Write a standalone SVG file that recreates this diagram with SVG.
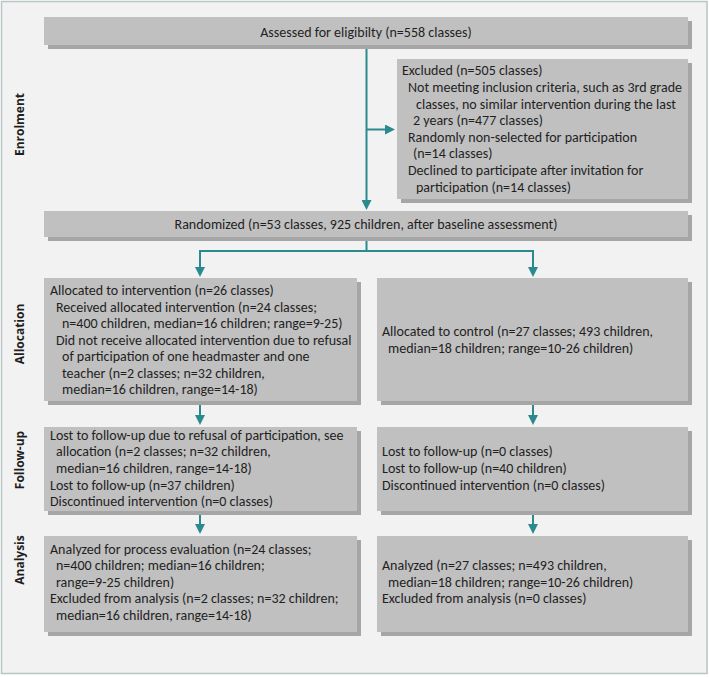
<svg xmlns="http://www.w3.org/2000/svg" width="709" height="677" viewBox="0 0 709 677">
<style>
.sh{fill:#a6a6a6}
.bx{fill:#c0c0c0}
.t{font-family:Carlito,Lato,"Liberation Sans",sans-serif;font-size:14px;fill:#1f1f1f}
.m{text-anchor:middle}
.side{font-family:"Open Sans","DejaVu Sans",sans-serif;font-size:12px;font-weight:bold;fill:#1f1f1f;text-anchor:middle}
.c{fill:none;stroke:#2a8a8e;stroke-width:2}
</style>
<defs>
<marker id="ah" viewBox="0 0 10 10" refX="1" refY="5" markerWidth="10" markerHeight="10" markerUnits="userSpaceOnUse" orient="auto">
<path d="M0,0 L10,5 L0,10 z" fill="#2a8a8e"/>
</marker>
</defs>
<rect x="1.5" y="1.5" width="705.5" height="672" fill="#f2f2f2" stroke="#b9c5c5" stroke-width="1.5"/>
<g id="labels">
<text class="side" transform="translate(24,124.5) rotate(-90)">Enrolment</text>
<text class="side" transform="translate(24,334) rotate(-90)">Allocation</text>
<text class="side" transform="translate(24,460) rotate(-90)">Follow-up</text>
<text class="side" transform="translate(24,560) rotate(-90)">Analysis</text>
</g>
<g id="connectors">
<path class="c" d="M366.5,45 V201" marker-end="url(#ah)"/>
<path class="c" d="M366.5,129.5 H386" marker-end="url(#ah)"/>
<path class="c" d="M366.5,237 V251 M200,251 H533"/>
<path class="c" d="M200,250 V268" marker-end="url(#ah)"/>
<path class="c" d="M533,250 V268" marker-end="url(#ah)"/>
<path class="c" d="M200,401 V416" marker-end="url(#ah)"/>
<path class="c" d="M533,401 V416" marker-end="url(#ah)"/>
<path class="c" d="M200,511 V525" marker-end="url(#ah)"/>
<path class="c" d="M533,511 V525" marker-end="url(#ah)"/>
</g>
<g id="assessed">
<rect class="sh" x="48" y="21" width="644" height="28"/>
<rect class="bx" x="44" y="17" width="644" height="28"/>
<text class="t m" x="366" y="36.5">Assessed for eligibilty (n=558 classes)</text>
</g>
<g id="excluded">
<rect class="sh" x="401" y="63" width="291" height="140"/>
<rect class="bx" x="397" y="59" width="291" height="140"/>
<text class="t" x="402" y="75">Excluded (n=505 classes)</text>
<text class="t" x="408" y="92">Not meeting inclusion criteria, such as 3rd grade</text>
<text class="t" x="416" y="108.5">classes, no similar intervention during the last</text>
<text class="t" x="413" y="125">2 years (n=477 classes)</text>
<text class="t" x="408" y="141.5">Randomly non-selected for participation</text>
<text class="t" x="413" y="158">(n=14 classes)</text>
<text class="t" x="408" y="175">Declined to participate after invitation for</text>
<text class="t" x="416" y="191.5">participation (n=14 classes)</text>
</g>
<g id="randomized">
<rect class="sh" x="48" y="215" width="644" height="26"/>
<rect class="bx" x="44" y="211" width="644" height="26"/>
<text class="t m" x="366" y="229">Randomized (n=53 classes, 925 children, after baseline assessment)</text>
</g>
<g id="alloc-int">
<rect class="sh" x="48" y="282" width="313" height="123"/>
<rect class="bx" x="44" y="278" width="313" height="123"/>
<text class="t" x="50" y="295">Allocated to intervention (n=26 classes)</text>
<text class="t" x="56" y="311.5">Received allocated intervention (n=24 classes;</text>
<text class="t" x="62" y="328">n=400 children, median=16 children; range=9-25)</text>
<text class="t" x="56" y="344.5">Did not receive allocated intervention due to refusal</text>
<text class="t" x="62" y="361">of participation of one headmaster and one</text>
<text class="t" x="62" y="377.5">teacher (n=2 classes; n=32 children,</text>
<text class="t" x="62" y="394">median=16 children, range=14-18)</text>
</g>
<g id="alloc-ctrl">
<rect class="sh" x="381" y="282" width="311" height="123"/>
<rect class="bx" x="377" y="278" width="311" height="123"/>
<text class="t" x="382" y="336">Allocated to control (n=27 classes; 493 children,</text>
<text class="t" x="388" y="352.5">median=18 children; range=10-26 children)</text>
</g>
<g id="follow-int">
<rect class="sh" x="48" y="431" width="313" height="84"/>
<rect class="bx" x="44" y="427" width="313" height="84"/>
<text class="t" x="50" y="439.5">Lost to follow-up due to refusal of participation, see</text>
<text class="t" x="56" y="456">allocation (n=2 classes; n=32 children,</text>
<text class="t" x="56" y="473">median=16 children, range=14-18)</text>
<text class="t" x="50" y="489.5">Lost to follow-up (n=37 children)</text>
<text class="t" x="50" y="506">Discontinued intervention (n=0 classes)</text>
</g>
<g id="follow-ctrl">
<rect class="sh" x="381" y="431" width="311" height="84"/>
<rect class="bx" x="377" y="427" width="311" height="84"/>
<text class="t" x="382" y="456">Lost to follow-up (n=0 classes)</text>
<text class="t" x="382" y="473">Lost to follow-up (n=40 children)</text>
<text class="t" x="382" y="489.5">Discontinued intervention (n=0 classes)</text>
</g>
<g id="analysis-int">
<rect class="sh" x="48" y="540" width="313" height="96"/>
<rect class="bx" x="44" y="536" width="313" height="96"/>
<text class="t" x="50" y="553.5">Analyzed for process evaluation (n=24 classes;</text>
<text class="t" x="56" y="570">n=400 children; median=16 children;</text>
<text class="t" x="56" y="586.5">range=9-25 children)</text>
<text class="t" x="50" y="603">Excluded from analysis (n=2 classes; n=32 children;</text>
<text class="t" x="56" y="619.5">median=16 children, range=14-18)</text>
</g>
<g id="analysis-ctrl">
<rect class="sh" x="381" y="540" width="311" height="96"/>
<rect class="bx" x="377" y="536" width="311" height="96"/>
<text class="t" x="382" y="570">Analyzed (n=27 classes; n=493 children,</text>
<text class="t" x="388" y="586.5">median=18 children; range=10-26 children)</text>
<text class="t" x="382" y="603">Excluded from analysis (n=0 classes)</text>
</g>
</svg>
